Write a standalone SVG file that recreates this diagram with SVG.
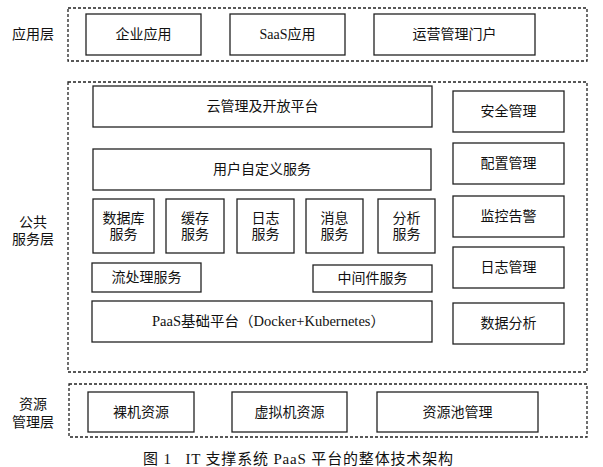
<svg xmlns="http://www.w3.org/2000/svg" width="603" height="467" viewBox="0 0 603 467">
<style>
.layer{fill:none;stroke:#222;stroke-width:1.3;stroke-dasharray:3 2}
.box{fill:#fff;stroke:#222;stroke-width:1.3}
text{font-family:"Liberation Serif","Noto Sans CJK SC",serif;font-size:14px;fill:#111;text-anchor:middle;dominant-baseline:central}
.cap{font-size:15px;text-anchor:start}
</style>
<rect width="603" height="467" fill="#fff"/>
<g id="app-layer">
<rect class="layer" x="68" y="8" width="519" height="53"/>
<text x="33" y="34">应用层</text>
</g>
<g id="enterprise-app"><rect class="box" x="86" y="14" width="115" height="41"/><text x="143.5" y="34.5">企业应用</text></g>
<g id="saas-app"><rect class="box" x="230" y="14" width="115" height="41"/><text x="287.5" y="34.5">SaaS应用</text></g>
<g id="ops-portal"><rect class="box" x="374" y="14" width="161" height="41"/><text x="454.5" y="34.5">运营管理门户</text></g>

<g id="public-layer">
<rect class="layer" x="68" y="82" width="519" height="290"/>
<text x="33" y="222">公共</text>
<text x="33" y="239">服务层</text>
</g>
<g id="cloud-mgmt"><rect class="box" x="93" y="86" width="339" height="41"/><text x="262.5" y="106.5">云管理及开放平台</text></g>
<g id="custom-svc"><rect class="box" x="93" y="149" width="338" height="41"/><text x="262" y="169.5">用户自定义服务</text></g>
<g id="db-svc"><rect class="box" x="93" y="199" width="61" height="54"/><text x="123.5" y="218">数据库</text><text x="123.5" y="234">服务</text></g>
<g id="cache-svc"><rect class="box" x="166" y="199" width="58" height="54"/><text x="195" y="218">缓存</text><text x="195" y="234">服务</text></g>
<g id="log-svc"><rect class="box" x="237" y="199" width="57" height="54"/><text x="265.5" y="218">日志</text><text x="265.5" y="234">服务</text></g>
<g id="msg-svc"><rect class="box" x="306" y="199" width="57" height="54"/><text x="334.5" y="218">消息</text><text x="334.5" y="234">服务</text></g>
<g id="analysis-svc"><rect class="box" x="378" y="199" width="57" height="54"/><text x="406.5" y="218">分析</text><text x="406.5" y="234">服务</text></g>
<g id="stream-svc"><rect class="box" x="92" y="263" width="109" height="29"/><text x="146.5" y="277.5">流处理服务</text></g>
<g id="middleware-svc"><rect class="box" x="313" y="265" width="119" height="27"/><text x="372.5" y="278.5">中间件服务</text></g>
<g id="paas-base"><rect class="box" x="92" y="301" width="340" height="41"/><text x="268.5" y="321.5" textLength="233" lengthAdjust="spacingAndGlyphs">PaaS基础平台（Docker+Kubernetes）</text></g>
<g id="security-mgmt"><rect class="box" x="453" y="91" width="111" height="41"/><text x="508.5" y="111.5">安全管理</text></g>
<g id="config-mgmt"><rect class="box" x="453" y="143" width="111" height="41"/><text x="508.5" y="163.5">配置管理</text></g>
<g id="monitor-alarm"><rect class="box" x="453" y="196" width="111" height="41"/><text x="508.5" y="216.5">监控告警</text></g>
<g id="log-mgmt"><rect class="box" x="453" y="247" width="111" height="41"/><text x="508.5" y="267.5">日志管理</text></g>
<g id="data-analysis"><rect class="box" x="453" y="303" width="111" height="41"/><text x="508.5" y="323.5">数据分析</text></g>

<g id="resource-layer">
<rect class="layer" x="69" y="384" width="518" height="53"/>
<text x="33" y="404">资源</text>
<text x="33" y="422">管理层</text>
</g>
<g id="bare-metal"><rect class="box" x="88" y="392" width="106" height="40"/><text x="141" y="412">裸机资源</text></g>
<g id="vm-res"><rect class="box" x="232" y="392" width="115" height="40"/><text x="289.5" y="412">虚拟机资源</text></g>
<g id="pool-mgmt"><rect class="box" x="377" y="392" width="161" height="40"/><text x="457.5" y="412">资源池管理</text></g>

<g id="connectors"></g>
<text class="cap" x="143" y="459" textLength="310" lengthAdjust="spacing" xml:space="preserve">图 1   IT 支撑系统 PaaS 平台的整体技术架构</text>
</svg>
